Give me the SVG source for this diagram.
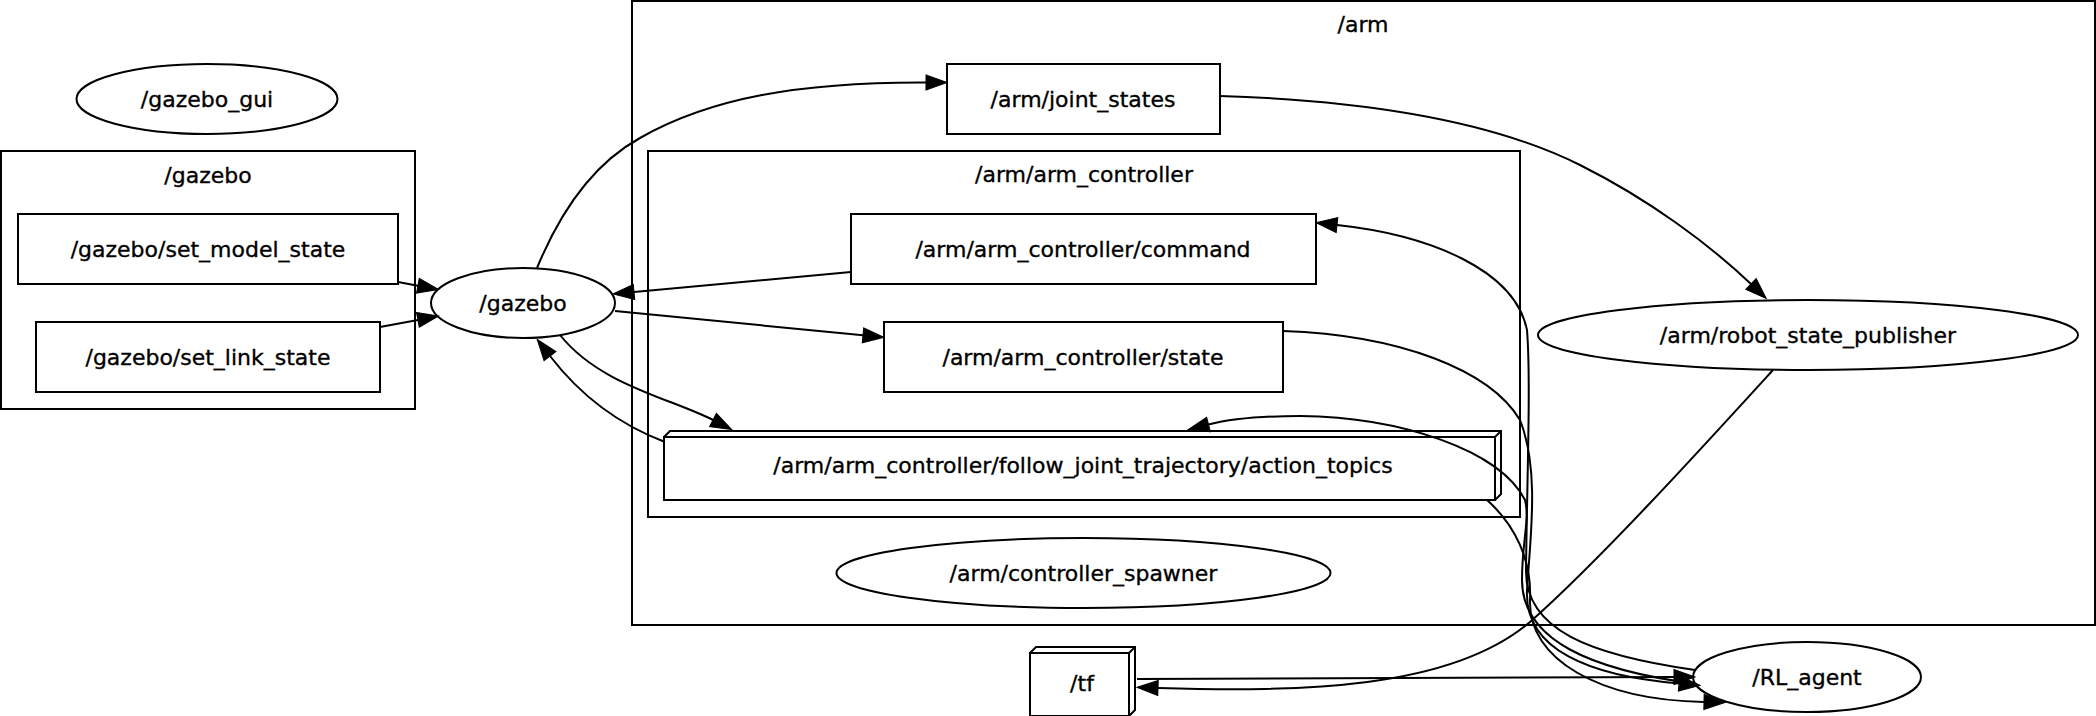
<svg xmlns="http://www.w3.org/2000/svg" width="2096" height="716" viewBox="0 0 2096 716">
<style>
text{font-family:"DejaVu Sans","Liberation Sans",sans-serif;font-size:22px;fill:#000;stroke:#000;stroke-width:0.35;text-anchor:middle}
.cl{fill:none;stroke:#000;stroke-width:2}
.nd{fill:none;stroke:#000;stroke-width:2}
.ed{fill:none;stroke:#000;stroke-width:2}
</style>
<defs>
<marker id="ah" markerUnits="userSpaceOnUse" markerWidth="24" markerHeight="18" refX="0" refY="7.5" orient="auto" viewBox="0 0 24 15" overflow="visible">
<path d="M0,0 L21,7.5 L0,15 z" fill="#000" stroke="#000" stroke-width="1"/>
</marker>
</defs>
<rect width="2096" height="716" fill="#fff"/>
<g id="cluster_gazebo">
<rect class="cl" x="1" y="151" width="414" height="258"/>
<text x="208" y="183">/gazebo</text>
</g>
<g id="cluster_arm">
<rect class="cl" x="632" y="1" width="1463" height="624"/>
<text x="1363" y="32">/arm</text>
</g>
<g id="cluster_arm_controller">
<rect class="cl" x="648" y="151" width="872" height="366"/>
<text x="1084" y="182">/arm/arm_controller</text>
</g>
<g id="n_gazebo_gui">
<ellipse class="nd" cx="207" cy="99" rx="130.5" ry="35"/>
<text x="207" y="107">/gazebo_gui</text>
</g>
<g id="n_set_model_state">
<rect class="nd" x="18" y="214" width="380" height="70"/>
<text x="208" y="257">/gazebo/set_model_state</text>
</g>
<g id="n_set_link_state">
<rect class="nd" x="36" y="322" width="344" height="70"/>
<text x="208" y="365">/gazebo/set_link_state</text>
</g>
<g id="n_gazebo">
<ellipse class="nd" cx="523" cy="303" rx="92" ry="35"/>
<text x="523" y="311">/gazebo</text>
</g>
<g id="n_joint_states">
<rect class="nd" x="947" y="64" width="273" height="70"/>
<text x="1083" y="107">/arm/joint_states</text>
</g>
<g id="n_command">
<rect class="nd" x="851" y="214" width="465" height="70"/>
<text x="1083" y="257">/arm/arm_controller/command</text>
</g>
<g id="n_state">
<rect class="nd" x="884" y="322" width="399" height="70"/>
<text x="1083" y="365">/arm/arm_controller/state</text>
</g>
<g id="n_action_topics">
<rect class="nd" x="664" y="437" width="831" height="63"/>
<polyline class="nd" points="664,437 670,431 1501,431 1501,494 1495,500"/>
<line class="nd" x1="1495" y1="437" x2="1501" y2="431"/>
<text x="1083" y="473">/arm/arm_controller/follow_joint_trajectory/action_topics</text>
</g>
<g id="n_controller_spawner">
<ellipse class="nd" cx="1083.5" cy="573" rx="247" ry="35"/>
<text x="1083.5" y="581">/arm/controller_spawner</text>
</g>
<g id="n_robot_state_publisher">
<ellipse class="nd" cx="1808" cy="335" rx="270" ry="35"/>
<text x="1808" y="343">/arm/robot_state_publisher</text>
</g>
<g id="n_tf">
<rect class="nd" x="1030" y="653" width="99" height="63"/>
<polyline class="nd" points="1030,653 1036,647 1135,647 1135,710 1129,716"/>
<line class="nd" x1="1129" y1="653" x2="1135" y2="647"/>
<text x="1082" y="691">/tf</text>
</g>
<g id="n_RL_agent">
<ellipse class="nd" cx="1807" cy="677" rx="114" ry="35"/>
<text x="1807" y="685">/RL_agent</text>
</g>
<g id="edges">
<path class="ed" marker-end="url(#ah)" d="M398,282 L417.9,285.7"/>
<path class="ed" marker-end="url(#ah)" d="M380,327 L417.9,319.9"/>
<path class="ed" marker-end="url(#ah)" d="M537,268 C565,200 600,160 640,138 C710,98 800,82 926,82.5"/>
<path class="ed" marker-end="url(#ah)" d="M1220,96 C1380,101 1500,125 1580,165 C1650,200 1710,245 1751,284"/>
<path class="ed" marker-end="url(#ah)" d="M851,272 L634,292"/>
<path class="ed" marker-end="url(#ah)" d="M615,311 L863,335.3"/>
<path class="ed" marker-end="url(#ah)" d="M560,335 C600,385 670,398 713,420"/>
<path class="ed" marker-end="url(#ah)" d="M665,442 C620,425 580,395 550,356"/>
<path class="ed" marker-end="url(#ah)" d="M1773,370 C1700,450 1600,560 1530,622 C1450,690 1300,692 1158,688"/>
<path class="ed" marker-end="url(#ah)" d="M1137,679 L1674,677"/>
<path class="ed" marker-end="url(#ah)" d="M1695,670 C1590,655 1525,630 1526,570 C1527,480 1531,380 1527,330 C1515,270 1430,235 1337,225"/>
<path class="ed" marker-end="url(#ah)" d="M1697,684 C1590,670 1522,640 1522,580 C1522,540 1530,520 1525,500 C1500,450 1400,417 1300,416 C1260,416 1230,419 1208.5,424.5"/>
<path class="ed" marker-end="url(#ah)" d="M1283,331 C1400,335 1490,370 1520,420 C1540,470 1530,540 1527,590 C1524,650 1590,676 1679,683.5"/>
<path class="ed" marker-end="url(#ah)" d="M1487,500 C1515,525 1532,560 1530,600 C1528,660 1600,700 1704,702"/>
</g>
</svg>
